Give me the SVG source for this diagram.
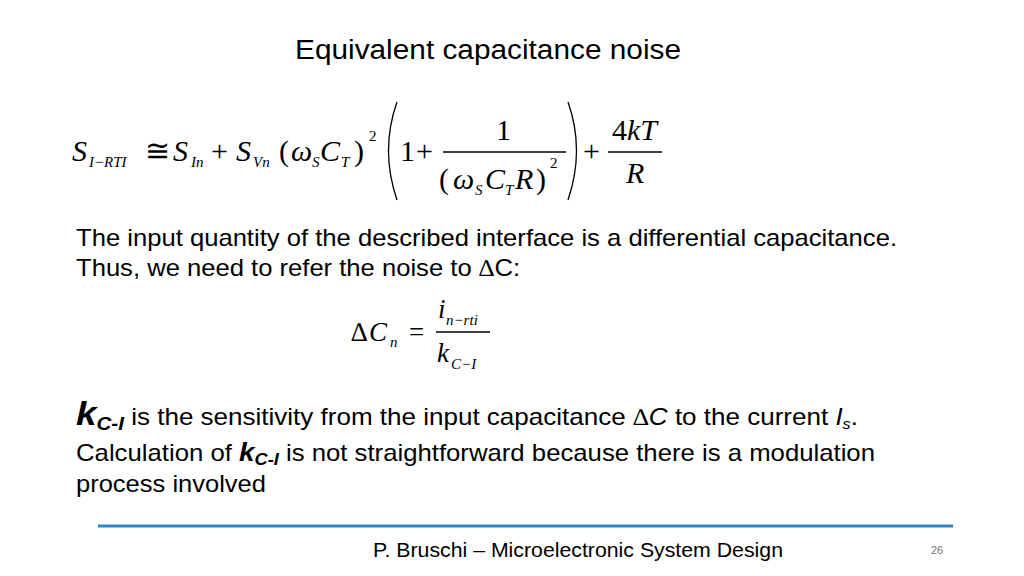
<svg xmlns="http://www.w3.org/2000/svg" width="1024" height="576" viewBox="0 0 1024 576">
<style>
.s{font-family:"Liberation Sans",Arial,sans-serif;fill:#000}
.m{font-family:"Liberation Serif","Times New Roman",serif;fill:#000}
.i{font-style:italic}
.b{font-size:30px}
.sub{font-size:15px}
.ln{stroke:#000;stroke-width:1.3;fill:none}
</style>
<rect width="1024" height="576" fill="#fff"/>
<g id="title"><text class="s" x="295" y="59" font-size="27" textLength="386" lengthAdjust="spacingAndGlyphs">Equivalent capacitance noise</text></g>
<g id="eq1">
<text class="m i b" x="72" y="161">S</text><text class="m i sub" x="89" y="167">I−RTI</text>
<text class="m b" x="145" y="161">≅</text>
<text class="m i b" x="173" y="161">S</text><text class="m i sub" x="191" y="167">In</text>
<text class="m b" x="211" y="161">+</text>
<text class="m i b" x="236" y="161">S</text><text class="m i sub" x="253" y="167">Vn</text>
<text class="m b" x="279" y="161">(</text>
<text class="m i b" x="291" y="161">ω</text><text class="m i sub" x="312" y="167">S</text>
<text class="m i b" x="320" y="161">C</text><text class="m i sub" x="341" y="167">T</text>
<text class="m b" x="354" y="161">)</text>
<text class="m" font-size="15" x="369" y="141">2</text>
<path class="ln" d="M397,102 Q380,150 397,200"/>
<path class="ln" d="M568,102 Q585,150 568,200"/>
<text class="m b" x="400" y="161">1</text>
<text class="m b" x="416" y="161">+</text>
<line class="ln" x1="443" y1="152" x2="566" y2="152"/>
<text class="m b" x="496" y="140">1</text>
<text class="m b" x="439" y="189">(</text>
<text class="m i b" x="453" y="189">ω</text><text class="m i sub" x="475" y="195">S</text>
<text class="m i b" x="485" y="189">C</text><text class="m i sub" x="505" y="195">T</text>
<text class="m i b" x="515" y="189">R</text>
<text class="m b" x="536" y="189">)</text>
<text class="m" font-size="15" x="550" y="168">2</text>
<text class="m b" x="583" y="161">+</text>
<text class="m b" x="612" y="140">4<tspan class="i">kT</tspan></text>
<line class="ln" x1="608" y1="152" x2="662" y2="152"/>
<text class="m i b" x="626" y="183">R</text>
</g>
<g id="text1">
<text class="s" x="76" y="246" font-size="24" textLength="821" lengthAdjust="spacingAndGlyphs">The input quantity of the described interface is a differential capacitance.</text>
<text class="s" x="76" y="276" font-size="24" textLength="444" lengthAdjust="spacingAndGlyphs">Thus, we need to refer the noise to <tspan class="m">∆</tspan>C:</text>
</g>
<g id="eq2">
<text class="m" font-size="27" x="351" y="341">∆</text>
<text class="m i" font-size="27" x="369" y="341">C</text><text class="m i sub" x="390" y="347">n</text>
<text class="m" font-size="27" x="409" y="341">=</text>
<text class="m i" font-size="27" x="438" y="318">i</text><text class="m i sub" x="446" y="325">n−rti</text>
<line class="ln" x1="436" y1="332" x2="490" y2="332"/>
<text class="m i" font-size="27" x="437" y="362">k</text><text class="m i sub" x="451" y="369">C−I</text>
</g>
<g id="text2" font-size="24">
<text class="s" x="76" y="425" textLength="782" lengthAdjust="spacingAndGlyphs"><tspan font-weight="bold" font-style="italic" font-size="34">k</tspan><tspan font-weight="bold" font-style="italic" font-size="19" dy="5">C-I</tspan><tspan dy="-5"> is the sensitivity from the input capacitance </tspan><tspan class="m" font-style="italic">∆</tspan><tspan font-style="italic">C</tspan> to the current <tspan font-style="italic">I</tspan><tspan font-style="italic" font-size="15" dy="4">s</tspan><tspan dy="-4">.</tspan></text>
<text class="s" x="76" y="461" textLength="799" lengthAdjust="spacingAndGlyphs">Calculation of <tspan font-weight="bold" font-style="italic" font-size="26">k</tspan><tspan font-weight="bold" font-style="italic" font-size="17" dy="4">C-I</tspan><tspan dy="-4">  is not straightforward because there is a modulation</tspan></text>
<text class="s" x="76" y="492" textLength="190" lengthAdjust="spacingAndGlyphs">process involved</text>
</g>
<g id="footer">
<line x1="98" y1="526" x2="953" y2="526" stroke="#2f86c4" stroke-width="3"/>
<text class="s" x="373" y="557" font-size="21" textLength="410" lengthAdjust="spacingAndGlyphs">P. Bruschi – Microelectronic System Design</text>
<text class="s" x="931" y="554" font-size="11" style="fill:#777">26</text>
</g>
</svg>
